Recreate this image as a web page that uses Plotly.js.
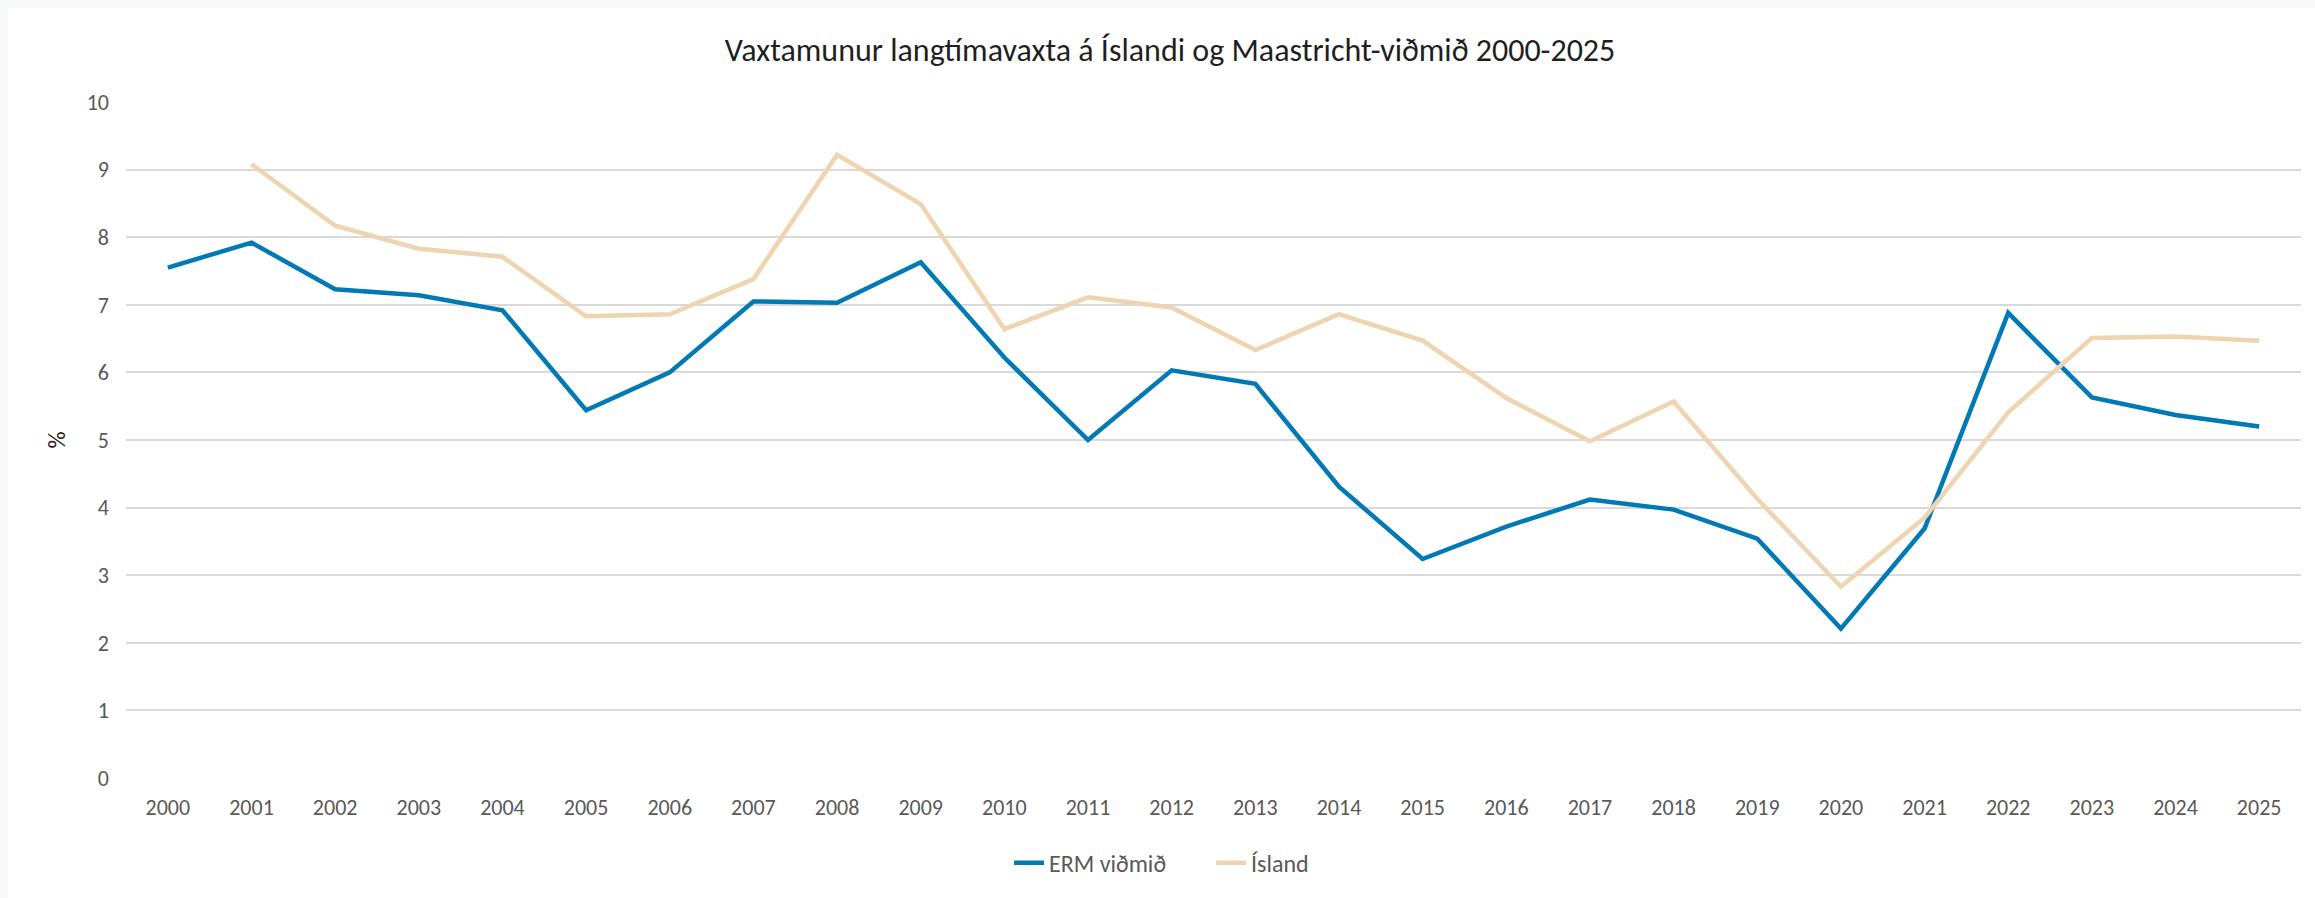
<!DOCTYPE html>
<html>
<head>
<meta charset="utf-8">
<script src="https://cdn.plot.ly/plotly-3.0.1.min.js"></script>
<style>
  html, body { margin: 0; padding: 0; background: #f7f9fb; }
  #chart { position: absolute; left: 8px; top: 8px; width: 2307px; height: 890px; background: #ffffff; }
</style>
</head>
<body>
<div id="chart"></div>
<script>
const years = ["2000","2001","2002","2003","2004","2005","2006","2007","2008","2009","2010","2011","2012",
               "2013","2014","2015","2016","2017","2018","2019","2020","2021","2022","2023","2024","2025"];
const ermVidmid = [7.55, 7.92, 7.23, 7.14, 6.92, 5.44, 6.00, 7.05, 7.03, 7.63, 6.22, 5.00, 6.03,
                   5.83, 4.31, 3.24, 3.72, 4.12, 3.97, 3.54, 2.21, 3.69, 6.88, 5.63, 5.37, 5.20];
const island = [null, 9.08, 8.17, 7.83, 7.71, 6.83, 6.86, 7.38, 9.22, 8.49, 6.64, 7.11, 6.96,
                6.33, 6.86, 6.47, 5.62, 4.98, 5.57, 4.13, 2.83, 3.85, 5.41, 6.51, 6.53, 6.47];
const seriesNames = ["ERM viðmið", "Ísland"];
const titleText = "Vaxtamunur langtímavaxta á Íslandi og Maastricht-viðmið 2000-2025";
const yTickVals = [0,1,2,3,4,5,6,7,8,9,10];

const FONT = "Carlito, Calibri, Lato, 'Open Sans', sans-serif";

const traces = [
  { x: years, y: ermVidmid, name: seriesNames[0], type: "scatter", mode: "lines",
    line: { color: "#0079b5", width: 4.5 }, hoverinfo: "x+y+name" },
  { x: years, y: island, name: seriesNames[1], type: "scatter", mode: "lines",
    line: { color: "#efd4b1", width: 4.5 }, connectgaps: false, hoverinfo: "x+y+name" }
];

const layout = {
  width: 2307, height: 890,
  paper_bgcolor: "#ffffff", plot_bgcolor: "#ffffff",
  margin: { l: 118, r: 14, t: 94, b: 120 },
  title: { text: titleText, font: { family: FONT, size: 32, color: "#1f1f1f" },
           xref: "container", x: 0.5037, xanchor: "center", yref: "container", y: 0.953, yanchor: "middle" },
  xaxis: {
    type: "category", range: [-0.5, 25.5], showgrid: false, zeroline: false, showline: false,
    ticks: "", tickfont: { family: FONT, size: 22, color: "#595959" }, ticklabelstandoff: 14, fixedrange: true
  },
  yaxis: {
    range: [0, 10], tickvals: yTickVals, showgrid: true, gridcolor: "#d9d9d9", gridwidth: 2,
    zeroline: false, showline: false, ticks: "",
    tickfont: { family: FONT, size: 22, color: "#595959" }, ticklabelstandoff: 16,
    title: { text: "%", font: { family: FONT, size: 24, color: "#1f1f1f" }, standoff: 14 },
    fixedrange: true
  },
  showlegend: true,
  legend: { orientation: "h", x: 0.406, xanchor: "left", y: -0.126, yanchor: "middle",
            entrywidth: 157, entrywidthmode: "pixels",
            font: { family: FONT, size: 24, color: "#595959" }, traceorder: "normal" },
  hovermode: "x"
};

Plotly.newPlot("chart", traces, layout, { displayModeBar: false, responsive: false });
</script>
</body>
</html>
